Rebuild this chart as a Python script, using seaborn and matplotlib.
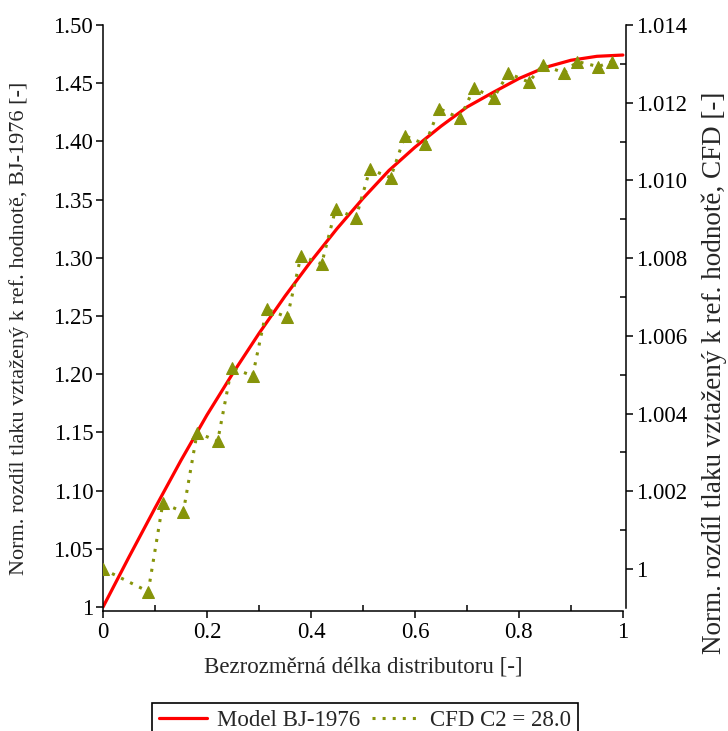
import numpy as np
import pandas as pd
import matplotlib
matplotlib.use("Agg")
import matplotlib.pyplot as plt
from matplotlib.ticker import FixedLocator
from matplotlib.lines import Line2D
import seaborn as sns

# ---- data ----
model_x = [0.0, 0.05, 0.1, 0.15, 0.2, 0.25, 0.3, 0.35, 0.4, 0.45, 0.5,
           0.55, 0.6, 0.65, 0.7, 0.75, 0.8, 0.85, 0.9, 0.95, 1.0]
model_y = [1.000, 1.043, 1.085, 1.126, 1.165, 1.201, 1.235, 1.267, 1.297, 1.325, 1.351,
           1.375, 1.395, 1.413, 1.4295, 1.442, 1.454, 1.4635, 1.4697, 1.4731, 1.4742]

cfd_x = [0.0, 0.087, 0.115, 0.1545, 0.181, 0.2205, 0.2474, 0.2878, 0.3148, 0.3545,
         0.3808, 0.4205, 0.4474, 0.4865, 0.5135, 0.5532, 0.5808, 0.6198, 0.6468, 0.6865,
         0.7135, 0.7519, 0.7795, 0.8192, 0.8455, 0.8865, 0.9122, 0.9525, 0.9794]
cfd_y = [1.00000, 0.99942, 1.00169, 1.00147, 1.00351, 1.00329, 1.00518, 1.00497, 1.00669, 1.00648,
         1.00806, 1.00785, 1.00926, 1.00904, 1.01029, 1.01007, 1.01115, 1.01093, 1.01185, 1.01160,
         1.01237, 1.01213, 1.01276, 1.01253, 1.01297, 1.01277, 1.01306, 1.01293, 1.01306]

x_ticks = [0, 0.2, 0.4, 0.6, 0.8, 1.0]
x_tick_labels = ["0", "0.2", "0.4", "0.6", "0.8", "1"]
left_ticks = [1.0, 1.05, 1.10, 1.15, 1.20, 1.25, 1.30, 1.35, 1.40, 1.45, 1.50]
left_tick_labels = ["1", "1.05", "1.10", "1.15", "1.20", "1.25", "1.30", "1.35", "1.40", "1.45", "1.50"]
right_ticks = [1.000, 1.002, 1.004, 1.006, 1.008, 1.010, 1.012, 1.014]
right_tick_labels = ["1", "1.002", "1.004", "1.006", "1.008", "1.010", "1.012", "1.014"]

model_label = "Model BJ-1976"
cfd_label = "CFD C2 = 28.0"
xlabel = "Bezrozměrná délka distributoru [-]"
ylabel_left = "Norm. rozdíl tlaku vztažený k ref. hodnotě, BJ-1976 [-]"
ylabel_right = "Norm. rozdíl tlaku vztažený k ref. hodnotě, CFD [-]"

RED = "#ff0000"
OLIVE = "#86940a"

# ---- style ----
sns.set_theme(style="ticks")
plt.rcParams["font.family"] = ["Liberation Serif", "DejaVu Serif"]
plt.rcParams["axes.linewidth"] = 1.1
FS = 16.5
TFS = 16.5

W, H = 728, 731
fig = plt.figure(figsize=(W / 100, H / 100), dpi=100)
ax = fig.add_axes([103 / W, 1 - 611 / H, (626 - 103) / W, (611 - 25) / H])
ax2 = ax.twinx()

model_df = pd.DataFrame({"x": model_x, "y": model_y})
cfd_df = pd.DataFrame({"x": cfd_x, "y": cfd_y})

sns.lineplot(data=model_df, x="x", y="y", ax=ax, color=RED, lw=2.3,
             sort=False, legend=False)
sns.lineplot(data=cfd_df, x="x", y="y", ax=ax2, color=OLIVE, lw=2.2,
             linestyle=(0, (1, 2.3)), marker="^", markersize=8,
             markeredgecolor=OLIVE, sort=False, legend=False)

ax.set_xlim(0, 1.006)
ax.set_ylim(0.9966, 1.5)
ax2.set_ylim(0.99892, 1.014)

for a in (ax, ax2):
    a.set_facecolor("none")
    a.set_xlabel("")
    a.set_ylabel("")
    a.grid(False)
    a.spines["top"].set_visible(False)
    for s in a.spines.values():
        s.set_color("black")
        s.set_linewidth(1.1)

ax.spines["right"].set_visible(False)
ax2.spines["left"].set_visible(False)
ax2.spines["bottom"].set_visible(False)
ax.spines["bottom"].set_bounds(0, 1)
ax2.spines["right"].set_bounds(0.999, 1.014)

ax.set_xticks(x_ticks)
ax.set_xticklabels(x_tick_labels)
ax.xaxis.set_minor_locator(FixedLocator([0.1, 0.3, 0.5, 0.7, 0.9]))
ax.set_yticks(left_ticks)
ax.set_yticklabels(left_tick_labels)
ax2.set_yticks(right_ticks)
ax2.set_yticklabels(right_tick_labels)
ax2.yaxis.set_minor_locator(FixedLocator([1.001, 1.003, 1.005, 1.007, 1.009, 1.011, 1.013]))

ax.tick_params(axis="x", which="major", direction="out", length=5, width=1.1,
               labelsize=TFS, color="black", labelcolor="black", pad=3)
ax.tick_params(axis="x", which="minor", direction="in", length=4, width=1.1, color="black")
ax.tick_params(axis="y", which="major", direction="out", length=5, width=1.1,
               labelsize=TFS, color="black", labelcolor="black", pad=2)
ax2.tick_params(axis="y", which="major", direction="out", length=5, width=1.1,
                labelsize=TFS, color="black", labelcolor="black", pad=2)
ax2.tick_params(axis="y", which="minor", direction="in", length=4, width=1.1, color="black")

fig.text(363 / W, 1 - 667 / H, xlabel, ha="center", va="center", fontsize=FS)
fig.text(19 / W, 1 - 328 / H, ylabel_left, ha="center", va="center", rotation=90, fontsize=16)
fig.text(714 / W, 1 - 373 / H, ylabel_right, ha="center", va="center", rotation=90, fontsize=19.5)

handles = [Line2D([], [], color=RED, lw=2.3),
           Line2D([], [], color=OLIVE, lw=2.2, linestyle=(0, (1, 2.3)))]
leg = fig.legend(handles, [model_label, cfd_label], loc="upper left",
                 bbox_to_anchor=(152 / W, 1 - 703 / H), ncol=2, fontsize=FS,
                 frameon=True, fancybox=False, edgecolor="black", framealpha=1,
                 handlelength=2.1, handletextpad=0.45, columnspacing=0.5,
                 borderpad=0.3, borderaxespad=0)
leg.get_frame().set_linewidth(1.2)

fig.savefig("out.png", dpi=100)
